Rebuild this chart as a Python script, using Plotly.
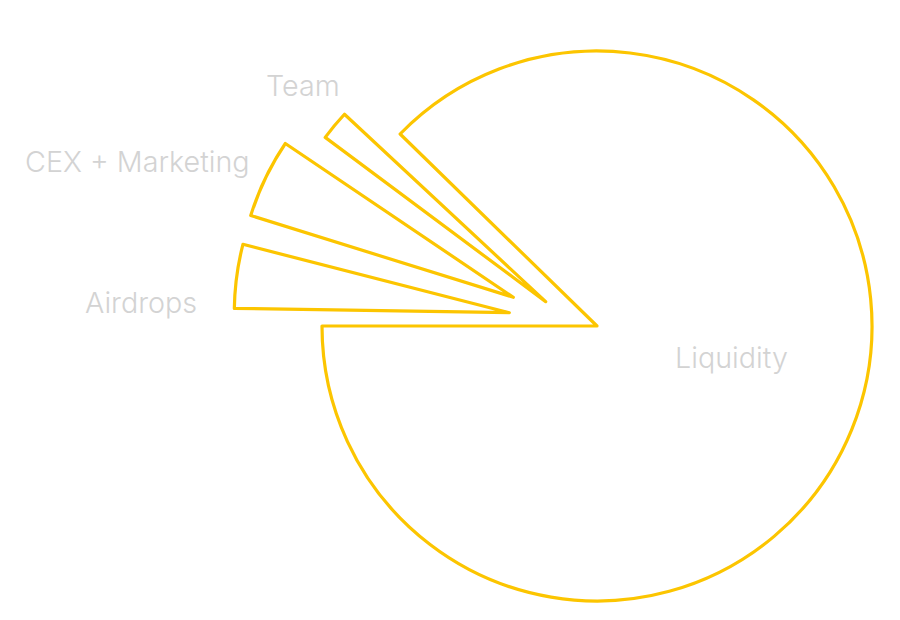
import plotly.graph_objects as go

# ---- data (percent of total) ----
labels = ["Liquidity", "Team", "CEX + Marketing", "Airdrops"]
shares = [87.7, 1.74, 4.64, 3.75]

# ---- layout / style ----
W, H = 900, 620
R = 275
LINE = "#fcc500"
TEXT = "#d3d3d3"
FONT = "Inter, Roboto, sans-serif"

# where each slice's apex sits (px)
apex = {
    "Liquidity": (597, 326),
    "Team": (545.7, 301.7),
    "CEX + Marketing": (513.3, 297.3),
    "Airdrops": (509.3, 312.7),
}
start_edge = {  # clockwise-from-top angle of the slice's leading edge
    "Liquidity": None,          # computed so that it ends at 9 o'clock
    "Team": -53.3,
    "CEX + Marketing": -72.7,
    "Airdrops": -89.1,
}
label_pos = {
    "Liquidity": (731, 357),
    "Team": (303, 85),
    "CEX + Marketing": (137, 162),
    "Airdrops": (141, 302),
}


def domain_for(cx, cy, r):
    return dict(x=[(cx - r) / W, (cx + r) / W],
                y=[1 - (cy + r) / H, 1 - (cy - r) / H])


fig = go.Figure()
for lab, v in zip(labels, shares):
    rot = start_edge[lab]
    if rot is None:
        rot = 270 - v * 3.6
    cx, cy = apex[lab]
    fig.add_trace(go.Pie(
        labels=[lab, "_rest"],
        values=[v, 100 - v],
        sort=False,
        direction="clockwise",
        rotation=rot,
        domain=domain_for(cx, cy, R),
        textinfo="none",
        hoverinfo="label+percent",
        showlegend=False,
        marker=dict(colors=["rgba(0,0,0,0)", "rgba(0,0,0,0)"],
                    line=dict(color=[LINE, "rgba(0,0,0,0)"], width=[3.2, 0])),
    ))

for lab in labels:
    x, y = label_pos[lab]
    fig.add_annotation(x=x / W, y=1 - y / H, xref="paper", yref="paper",
                       text=lab, showarrow=False, xanchor="center", yanchor="middle",
                       font=dict(family=FONT, size=28.7, color=TEXT, weight=300))

fig.update_layout(
    width=W, height=H,
    margin=dict(l=0, r=0, t=0, b=0),
    paper_bgcolor="white", plot_bgcolor="white",
)

fig.write_html("out.html",
               config={"displayModeBar": False},
               post_script="document.body.style.margin='0';document.body.style.overflow='hidden';")
